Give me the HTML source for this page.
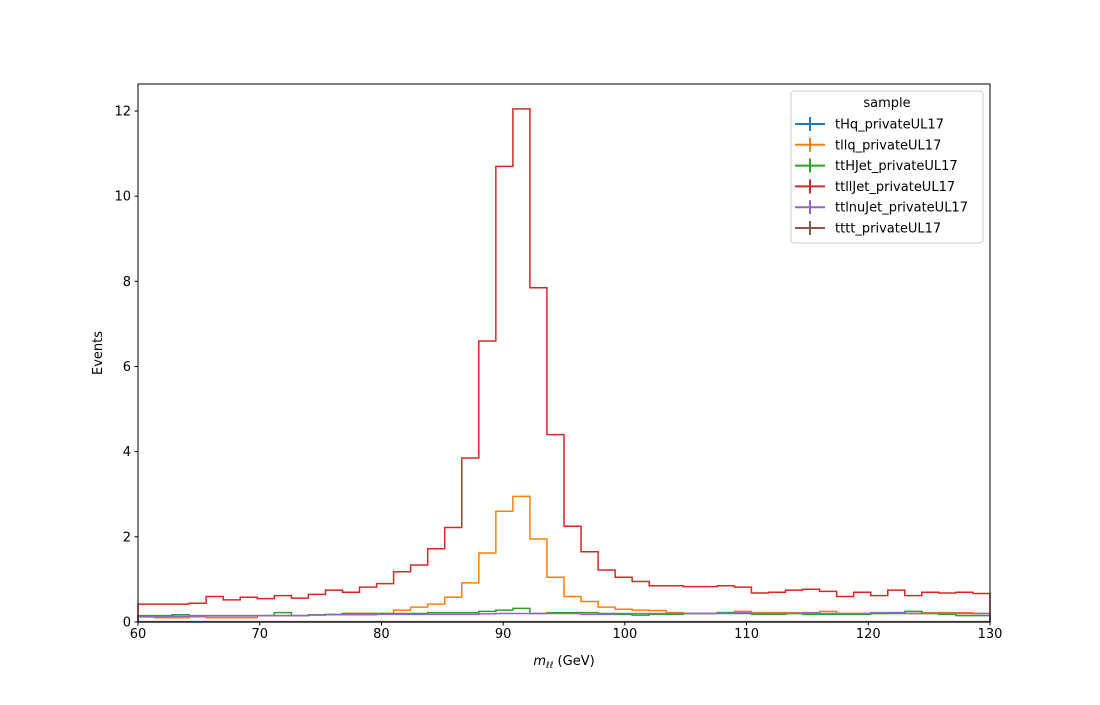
<!DOCTYPE html>
<html><head><meta charset="utf-8"><style>
body{margin:0;background:#fff;font-family:"Liberation Sans","DejaVu Sans",sans-serif}
svg text{font-family:"DejaVu Sans","Liberation Sans",sans-serif}
</style></head><body>
<svg id="chart" width="1100" height="700" xmlns="http://www.w3.org/2000/svg">
<g id="plot"></g>
</svg>
<script>
const xMin = 60, xMax = 130, nBins = 50;
const xTicks = [60,70,80,90,100,110,120,130];
const yTicks = [0,2,4,6,8,10,12];
const seriesNames = ["tHq_privateUL17","tllq_privateUL17","ttHJet_privateUL17","ttllJet_privateUL17","ttlnuJet_privateUL17","tttt_privateUL17"];
const seriesColors = ["#1f77b4","#ff7f0e","#2ca02c","#d62728","#9467bd","#8c564b"];
const tHq = [0,0,0,0,0,0,0,0,0,0,0,0,0,0,0,0,0,0,0,0,0,0,0,0,0,0,0,0,0,0,0,0,0,0,0,0,0,0,0,0,0,0,0,0,0,0,0,0,0,0];
const tllq = [0.12,0.1,0.1,0.12,0.1,0.1,0.1,0.15,0.15,0.15,0.17,0.17,0.2,0.2,0.2,0.28,0.35,0.42,0.58,0.92,1.62,2.6,2.95,1.95,1.05,0.6,0.48,0.35,0.3,0.28,0.27,0.22,0.2,0.2,0.22,0.25,0.22,0.22,0.22,0.2,0.25,0.2,0.2,0.2,0.22,0.2,0.22,0.22,0.22,0.2];
const ttHJet = [0.15,0.15,0.17,0.15,0.15,0.15,0.15,0.15,0.22,0.15,0.17,0.18,0.2,0.2,0.2,0.2,0.2,0.22,0.22,0.22,0.25,0.28,0.32,0.2,0.22,0.22,0.22,0.2,0.18,0.16,0.18,0.18,0.2,0.2,0.22,0.2,0.18,0.18,0.2,0.18,0.18,0.18,0.18,0.2,0.2,0.25,0.2,0.18,0.15,0.15];
const ttllJet = [0.42,0.42,0.42,0.44,0.6,0.52,0.58,0.55,0.62,0.56,0.65,0.75,0.7,0.82,0.9,1.18,1.34,1.72,2.22,3.85,6.6,10.7,12.05,7.85,4.4,2.25,1.65,1.22,1.05,0.95,0.85,0.85,0.83,0.83,0.85,0.82,0.68,0.7,0.75,0.77,0.72,0.6,0.7,0.62,0.75,0.62,0.7,0.68,0.7,0.67];
const ttlnuJet = [0.12,0.12,0.13,0.14,0.14,0.14,0.14,0.15,0.15,0.15,0.16,0.17,0.17,0.17,0.18,0.18,0.18,0.18,0.18,0.18,0.19,0.2,0.2,0.2,0.2,0.2,0.18,0.18,0.2,0.2,0.2,0.2,0.2,0.2,0.2,0.22,0.2,0.2,0.2,0.22,0.2,0.2,0.2,0.22,0.22,0.2,0.2,0.2,0.2,0.2];
const tttt = [0.01,0.01,0.01,0.01,0.01,0.01,0.01,0.01,0.01,0.01,0.01,0.01,0.01,0.01,0.01,0.01,0.01,0.01,0.01,0.01,0.01,0.01,0.01,0.01,0.01,0.01,0.01,0.01,0.01,0.01,0.01,0.01,0.01,0.01,0.01,0.01,0.01,0.01,0.01,0.01,0.01,0.01,0.01,0.01,0.01,0.01,0.01,0.01,0.01,0.01];
const seriesValues = [tHq, tllq, ttHJet, ttllJet, ttlnuJet, tttt];

const L=138,R=990,T=84,B=622;
const xs = v => L + (v - xMin) / (xMax - xMin) * (R - L);
const ys = v => 622 - v * (511/12);
const NS="http://www.w3.org/2000/svg";
const plot=document.getElementById('plot');
function mk(tag, attrs, parent){const e=document.createElementNS(NS,tag);for(const k in attrs)e.setAttribute(k,attrs[k]);(parent||plot).appendChild(e);return e;}

const w=(xMax-xMin)/nBins;
seriesValues.forEach((vals,si)=>{
  let d="";
  vals.forEach((v,i)=>{
    const x0=xs(xMin+i*w), x1=xs(xMin+(i+1)*w), y=ys(v);
    d += (i===0?`M${x0},${ys(0)} L${x0},${y}`:` L${x0},${y}`) + ` L${x1},${y}`;
    if(i===vals.length-1) d+=` L${x1},${ys(0)}`;
  });
  const p=mk('path',{d:d,fill:'none',stroke:seriesColors[si],'stroke-width':1.5});
  
  
});

const frame=mk('rect',{x:L,y:T,width:R-L,height:B-T,fill:'none',stroke:'#000','stroke-width':1});



xTicks.forEach(t=>{
  const x=xs(t);
  const tk=mk('line',{x1:x,x2:x,y1:B,y2:B+3.5,stroke:'#000'});
  
  
  const tx=mk('text',{x:x,y:B+16,'text-anchor':'middle','font-size':13});
  tx.textContent=t;
  
  
});
yTicks.forEach(t=>{
  const y=ys(t);
  const tk=mk('line',{x1:L-3.5,x2:L,y1:y,y2:y,stroke:'#000'});
  
  
  const tx=mk('text',{x:L-7,y:y+4.5,'text-anchor':'end','font-size':13});
  tx.textContent=t;
  
  
});
const xt=mk('text',{x:(L+R)/2,y:665,'text-anchor':'middle','font-size':13});
xt.innerHTML='<tspan font-style="italic">m</tspan><tspan font-style="italic" font-size="9" dy="3">ℓℓ</tspan><tspan dy="-3"> (GeV)</tspan>';


const yt=mk('text',{x:0,y:0,'text-anchor':'middle','font-size':13,transform:`translate(102,${(T+B)/2}) rotate(-90)`});
yt.textContent='Events';



const lg=mk('g',{});


mk('rect',{x:791,y:91,width:192,height:152,rx:3,fill:'#fff',stroke:'#ccc'},lg);
const lt=mk('text',{x:887,y:107,'text-anchor':'middle','font-size':13},lg);
lt.textContent='sample';


seriesNames.forEach((n,i)=>{
  const y=124+i*20.8;
  const g=mk('g',{},lg);
  
  
  mk('line',{x1:795,x2:825,y1:y,y2:y,stroke:seriesColors[i],'stroke-width':2},g);
  mk('line',{x1:810,x2:810,y1:y-7,y2:y+7,stroke:seriesColors[i],'stroke-width':2},g);
  const t=mk('text',{x:835,y:y+4.5,'font-size':13},g);
  t.textContent=n;
});
</script>
</body></html>
